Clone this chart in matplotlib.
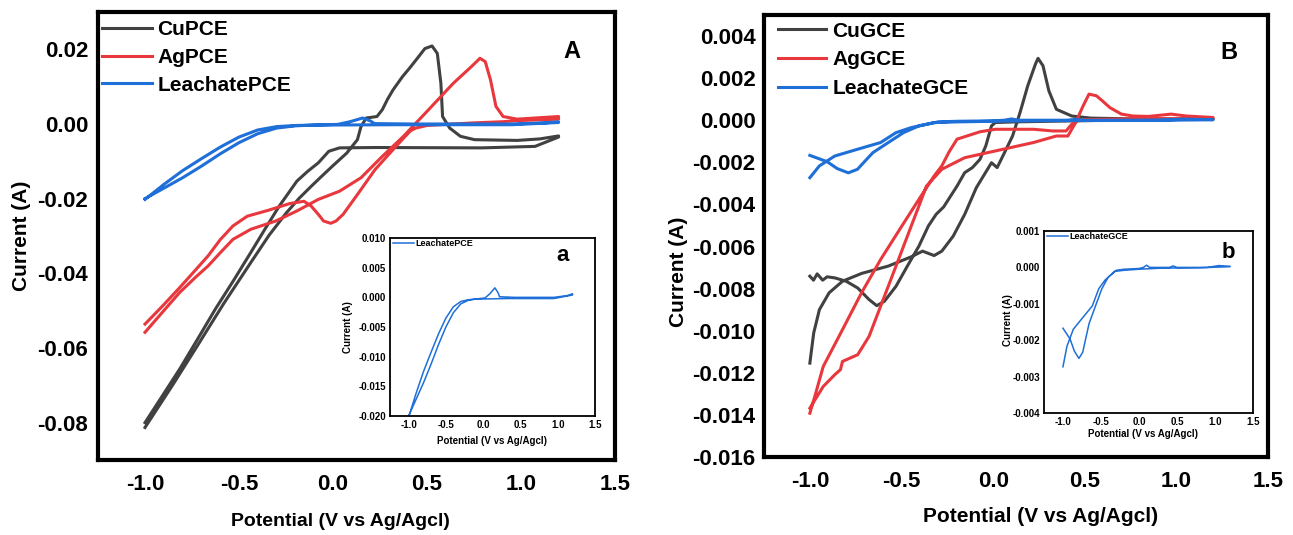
import matplotlib
matplotlib.use('Agg')
import matplotlib.pyplot as plt
from matplotlib.ticker import FormatStrFormatter

plt.rcParams['font.family'] = ['Liberation Sans', 'DejaVu Sans']
plt.rcParams['font.weight'] = 'bold'
plt.rcParams['axes.labelweight'] = 'bold'
plt.rcParams['axes.unicode_minus'] = False

# ---- data (potential in V, current in A) ----
# panel A: PCE electrodes, forward scan (-1.0 -> 1.2) and reverse scan
cu_pce_fwd_x = [-1.0, -0.85, -0.72, -0.58, -0.437, -0.34, -0.248, -0.18, -0.116, -0.06, -0.003, 0.073, 0.13,
                0.149, 0.177, 0.234, 0.262, 0.29, 0.319, 0.37, 0.413, 0.455, 0.489, 0.527, 0.555, 0.574,
                0.583, 0.621, 0.678, 0.753, 0.98, 1.1, 1.2]
cu_pce_fwd_y = [-0.0813, -0.0697, -0.0593, -0.0480, -0.0371, -0.0298, -0.0238, -0.0199, -0.0167, -0.0140,
                -0.0113, -0.0078, -0.0042, -0.0007, 0.0016, 0.0020, 0.0038, 0.0066, 0.0091, 0.0127, 0.0153,
                0.0180, 0.0202, 0.0209, 0.0189, 0.0109, 0.0020, -0.0011, -0.0033, -0.0042, -0.0044, -0.0040,
                -0.0032]
cu_pce_rev_x = [1.2, 1.075, 0.791, 0.224, 0.035, -0.022, -0.078, -0.135, -0.192, -0.286, -0.36, -0.437,
                -0.53, -0.626, -0.72, -0.815, -0.91, -1.0]
cu_pce_rev_y = [-0.0035, -0.0060, -0.0064, -0.0063, -0.0064, -0.0073, -0.0104, -0.0127, -0.0153, -0.0220,
                -0.0280, -0.0344, -0.0420, -0.0496, -0.0576, -0.0656, -0.0730, -0.0800]

ag_pce_fwd_x = [-1.0, -0.9, -0.815, -0.73, -0.664, -0.6, -0.532, -0.437, -0.305, -0.192, -0.078, 0.035,
                0.149, 0.262, 0.375, 0.508, 0.64, 0.735, 0.782, 0.81, 0.838, 0.867, 0.905, 0.98, 1.2]
ag_pce_fwd_y = [-0.0558, -0.0500, -0.0451, -0.0410, -0.0380, -0.0345, -0.0309, -0.0282, -0.0260, -0.0233,
                -0.0202, -0.0180, -0.0144, -0.0087, -0.0033, 0.0038, 0.0109, 0.0153, 0.0176, 0.0167, 0.0118,
                0.0047, 0.0020, 0.0013, 0.0020]
ag_pce_rev_x = [1.2, 0.98, 0.9, 0.75, 0.6, 0.5, 0.44, 0.413, 0.375, 0.319, 0.224, 0.13, 0.054, 0.016,
                -0.012, -0.05, -0.078, -0.116, -0.154, -0.229, -0.343, -0.456, -0.532, -0.6, -0.664, -0.74,
                -0.815, -0.9, -1.0]
ag_pce_rev_y = [0.0013, 0.0009, 0.0006, 0.0003, -0.0001, -0.0004, -0.0011, -0.0018, -0.0038, -0.0069,
                -0.0122, -0.0189, -0.0242, -0.0260, -0.0266, -0.0260, -0.0242, -0.0220, -0.0207, -0.0213,
                -0.0231, -0.0247, -0.0273, -0.0310, -0.0353, -0.0396, -0.0438, -0.0484, -0.0536]

leach_pce_fwd_x = [-1.0, -0.9, -0.8, -0.7, -0.6, -0.5, -0.4, -0.3, -0.2, -0.107, 0.026, 0.09, 0.158, 0.2,
                   0.22, 0.42, 0.95, 1.13, 1.2]
leach_pce_fwd_y = [-0.0200, -0.0172, -0.0144, -0.0113, -0.0080, -0.0050, -0.0026, -0.0011, -0.0005, -0.0003,
                   -0.0001, 0.0006, 0.0016, 0.0008, 0.0001, 0.0, 0.0, 0.0003, 0.0006]
leach_pce_rev_x = [1.2, 0.95, 0.33, -0.107, -0.2, -0.3, -0.4, -0.5, -0.6, -0.7, -0.8, -0.9, -1.0]
leach_pce_rev_y = [0.0004, -0.0002, -0.0002, -0.0003, -0.0004, -0.0007, -0.0016, -0.0035, -0.0062, -0.0093,
                   -0.0125, -0.0162, -0.0202]

# panel B: GCE electrodes
cu_gce_fwd_x = [-1.0, -0.979, -0.948, -0.895, -0.822, -0.718, -0.572, -0.447, -0.385, -0.322, -0.28,
                -0.218, -0.155, -0.092, -0.009, 0.022, 0.053, 0.106, 0.147, 0.189, 0.231, 0.245, 0.272,
                0.304, 0.345, 0.429, 0.533, 0.846, 1.2]
cu_gce_fwd_y = [-0.01154, -0.01011, -0.0090, -0.0082, -0.00765, -0.00728, -0.00693, -0.00649, -0.00622,
                -0.00643, -0.00622, -0.00551, -0.00447, -0.00321, -0.00202, -0.00225, -0.0017, -0.00075,
                0.00037, 0.00164, 0.00267, 0.00294, 0.00259, 0.0014, 0.00052, 0.0002, 0.0001, 0.00005,
                0.00008]
cu_gce_rev_x = [1.2, 0.637, 0.116, 0.012, -0.009, -0.04, -0.072, -0.113, -0.155, -0.197, -0.27, -0.311,
                -0.353, -0.405, -0.468, -0.53, -0.593, -0.635, -0.677, -0.739, -0.802, -0.864, -0.906,
                -0.93, -0.96, -0.98, -1.0]
cu_gce_rev_y = [0.00005, 0.0, -0.00008, -0.00011, -0.00027, -0.00122, -0.00186, -0.00225, -0.00249,
                -0.00313, -0.00412, -0.00447, -0.00502, -0.00598, -0.00693, -0.00789, -0.0086, -0.00881,
                -0.00852, -0.00797, -0.00765, -0.00749, -0.00744, -0.0076, -0.0073, -0.0076, -0.00741]

ag_gce_fwd_x = [-1.0, -0.927, -0.864, -0.833, -0.822, -0.739, -0.677, -0.614, -0.53, -0.447, -0.405,
                -0.364, -0.28, -0.155, 0.012, 0.22, 0.345, 0.408, 0.45, 0.491, 0.523, 0.564, 0.596, 0.637,
                0.7, 0.763, 0.846, 0.971, 1.054, 1.2]
ag_gce_fwd_y = [-0.01368, -0.01265, -0.01209, -0.01185, -0.01146, -0.01114, -0.01027, -0.00884, -0.00693,
                -0.00503, -0.00408, -0.00313, -0.00233, -0.00178, -0.00146, -0.00106, -0.00075, -0.00075,
                -0.00011, 0.00068, 0.00124, 0.00116, 0.00092, 0.0006, 0.00029, 0.0002, 0.00018, 0.00029,
                0.0002, 0.00013]
ag_gce_rev_x = [1.2, 0.846, 0.637, 0.47, 0.429, 0.398, 0.325, 0.22, 0.012, -0.072, -0.197, -0.24, -0.28,
                -0.322, -0.405, -0.51, -0.614, -0.718, -0.822, -0.927, -0.968, -1.0]
ag_gce_rev_y = [0.00005, 0.00008, 0.00005, 0.00002, -0.00019, -0.00051, -0.00051, -0.00043, -0.00043,
                -0.00055, -0.0009, -0.0015, -0.00217, -0.00265, -0.00376, -0.00519, -0.00662, -0.0082,
                -0.00995, -0.0117, -0.01297, -0.01392]

leach_gce_fwd_x = [-1.0, -0.906, -0.85, -0.79, -0.74, -0.7, -0.656, -0.572, -0.489, -0.405, -0.3, -0.197,
                   0.0, 0.06, 0.1, 0.14, 0.4, 0.45, 0.5, 0.9, 1.05, 1.2]
leach_gce_fwd_y = [-0.00167, -0.00197, -0.0023, -0.0025, -0.00233, -0.00195, -0.00154, -0.00106, -0.00059,
                   -0.00027, -0.00008, -0.00005, -0.00003, 0.0, 0.00006, 0.0, 0.0, 0.00004, 0.0, 0.0,
                   0.00005, 0.00003]
leach_gce_rev_x = [1.2, 0.8, 0.3, 0.0, -0.2, -0.32, -0.447, -0.53, -0.614, -0.74, -0.864, -0.948, -1.0]
leach_gce_rev_y = [0.00002, -0.00001, -0.00002, -0.00005, -0.00008, -0.00011, -0.00035, -0.00059, -0.00106,
                   -0.00138, -0.0017, -0.00217, -0.00273]

x_ticks = [-1.0, -0.5, 0.0, 0.5, 1.0, 1.5]
yticks_A = [-0.08, -0.06, -0.04, -0.02, 0.00, 0.02]
yticks_B = [-0.016, -0.014, -0.012, -0.010, -0.008, -0.006, -0.004, -0.002, 0.000, 0.002, 0.004]
yticks_a = [-0.020, -0.015, -0.010, -0.005, 0.000, 0.005, 0.010]
yticks_b = [-0.004, -0.003, -0.002, -0.001, 0.000, 0.001]

GRAY = '#414141'
RED = '#e8383d'
BLUE = '#1f6fd8'

fig = plt.figure(figsize=(12.93, 5.35), dpi=100)
axA = fig.add_axes([0.0758, 0.1402, 0.3998, 0.8374])
axB = fig.add_axes([0.5909, 0.1458, 0.3898, 0.8262])
insA = fig.add_axes([0.3016, 0.2224, 0.1585, 0.3327])
insB = fig.add_axes([0.8074, 0.2280, 0.1616, 0.3402])


def frame(ax, lw, ylim, yticks, yfmt, fs, xpad, ypad):
    ax.set_xlim(-1.25, 1.5)
    ax.set_ylim(*ylim)
    ax.set_xticks(x_ticks)
    ax.set_yticks(yticks)
    ax.xaxis.set_major_formatter(FormatStrFormatter('%.1f'))
    ax.yaxis.set_major_formatter(FormatStrFormatter(yfmt))
    ax.tick_params(axis='both', length=0, labelsize=fs)
    ax.tick_params(axis='x', pad=xpad)
    ax.tick_params(axis='y', pad=ypad)
    for s in ax.spines.values():
        s.set_linewidth(lw)
        s.set_color('black')


# ---- panel A ----
axA.plot(cu_pce_fwd_x + cu_pce_rev_x, cu_pce_fwd_y + cu_pce_rev_y, color=GRAY, lw=2.2, label='CuPCE')
axA.plot(ag_pce_fwd_x + ag_pce_rev_x, ag_pce_fwd_y + ag_pce_rev_y, color=RED, lw=2.2, label='AgPCE')
axA.plot(leach_pce_fwd_x + leach_pce_rev_x, leach_pce_fwd_y + leach_pce_rev_y, color=BLUE, lw=2.2,
         label='LeachatePCE')
frame(axA, 3.0, (-0.09, 0.03), yticks_A, '%.2f', 16, 10, 7)
axA.set_ylabel('Current (A)', fontsize=15)
axA.yaxis.set_label_coords(-0.13, 0.5)
axA.set_xlabel('Potential (V vs Ag/Agcl)', fontsize=14)
axA.xaxis.set_label_coords(0.468, -0.118)
axA.legend(loc='upper left', bbox_to_anchor=(0.008, 0.982), frameon=False, fontsize=15,
           handlelength=2.4, handletextpad=0.25, labelspacing=0.42, borderpad=0, borderaxespad=0)
axA.text(0.917, 0.911, 'A', transform=axA.transAxes, ha='center', va='center', fontsize=17,
         fontweight='bold')

# ---- panel B ----
axB.plot(cu_gce_fwd_x + cu_gce_rev_x, cu_gce_fwd_y + cu_gce_rev_y, color=GRAY, lw=2.2, label='CuGCE')
axB.plot(ag_gce_fwd_x + ag_gce_rev_x, ag_gce_fwd_y + ag_gce_rev_y, color=RED, lw=2.2, label='AgGCE')
axB.plot(leach_gce_fwd_x + leach_gce_rev_x, leach_gce_fwd_y + leach_gce_rev_y, color=BLUE, lw=2.2,
         label='LeachateGCE')
frame(axB, 3.0, (-0.016, 0.005), yticks_B, '%.3f', 16, 10, 6)
axB.set_ylabel('Current (A)', fontsize=15)
axB.yaxis.set_label_coords(-0.15, 0.42)
axB.set_xlabel('Potential (V vs Ag/Agcl)', fontsize=15)
axB.xaxis.set_label_coords(0.548, -0.112)
axB.legend(loc='upper left', bbox_to_anchor=(0.028, 0.985), frameon=False, fontsize=15,
           handlelength=2.3, handletextpad=0.3, labelspacing=0.47, borderpad=0, borderaxespad=0)
axB.text(0.923, 0.916, 'B', transform=axB.transAxes, ha='center', va='center', fontsize=17,
         fontweight='bold')

# ---- inset a ----
insA.plot(leach_pce_fwd_x + leach_pce_rev_x, leach_pce_fwd_y + leach_pce_rev_y, color=BLUE, lw=1.1,
          label='LeachatePCE')
frame(insA, 1.3, (-0.020, 0.010), yticks_a, '%.3f', 7, 3, 3)
insA.set_ylabel('Current (A)', fontsize=7)
insA.yaxis.set_label_coords(-0.18, 0.5)
insA.set_xlabel('Potential (V vs Ag/Agcl)', fontsize=7)
insA.xaxis.set_label_coords(0.5, -0.115)
insA.legend(loc='upper left', bbox_to_anchor=(0.01, 1.0), frameon=False, fontsize=6.5,
            handlelength=2.3, handletextpad=0.2, borderpad=0.1, borderaxespad=0)
insA.text(0.84, 0.90, 'a', transform=insA.transAxes, ha='center', va='center', fontsize=16,
          fontweight='bold')

# ---- inset b ----
insB.plot(leach_gce_fwd_x + leach_gce_rev_x, leach_gce_fwd_y + leach_gce_rev_y, color=BLUE, lw=1.1,
          label='LeachateGCE')
frame(insB, 1.3, (-0.004, 0.001), yticks_b, '%.3f', 7, 3, 3)
insB.set_ylabel('Current (A)', fontsize=7)
insB.yaxis.set_label_coords(-0.15, 0.51)
insB.set_xlabel('Potential (V vs Ag/Agcl)', fontsize=7)
insB.xaxis.set_label_coords(0.474, -0.09)
insB.legend(loc='upper left', bbox_to_anchor=(0.01, 1.0), frameon=False, fontsize=6.5,
            handlelength=2.3, handletextpad=0.2, borderpad=0.1, borderaxespad=0)
insB.text(0.88, 0.88, 'b', transform=insB.transAxes, ha='center', va='center', fontsize=16,
          fontweight='bold')

fig.savefig('out.png', dpi=100)
